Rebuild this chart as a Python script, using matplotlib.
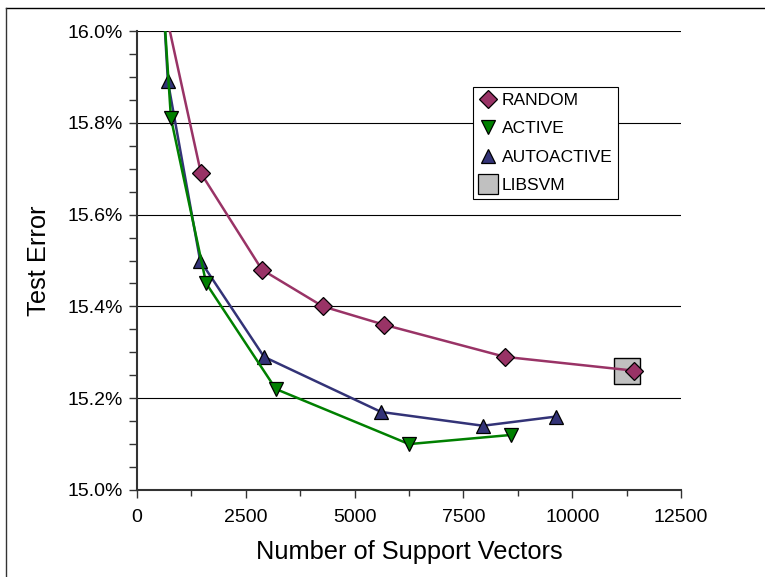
import matplotlib
matplotlib.use("Agg")
import matplotlib.pyplot as plt
from matplotlib.lines import Line2D
from matplotlib.ticker import MultipleLocator, FuncFormatter

plt.rcParams['font.family'] = ['Liberation Sans', 'DejaVu Sans']

# Data (test error in %)
random_sv = [500, 1470, 2870, 4270, 5680, 8460, 11420]
random_err = [16.11, 15.69, 15.48, 15.40, 15.36, 15.29, 15.26]

active_sv = [560, 780, 1590, 3190, 6250, 8600]
active_err = [16.13, 15.81, 15.45, 15.22, 15.10, 15.12]

auto_sv = [600, 710, 1450, 2920, 5610, 7950, 9630]
auto_err = [16.07, 15.89, 15.50, 15.29, 15.17, 15.14, 15.16]

libsvm_sv = [11270]
libsvm_err = [15.26]

fig = plt.figure(figsize=(7.65, 5.77), dpi=100)
ax = fig.add_axes([137/765, 1-490/577, (681-137)/765, (490-31)/577])

ax.plot(libsvm_sv, libsvm_err, linestyle='none', marker='s', markersize=19,
        markerfacecolor='#C0C0C0', markeredgecolor='black', markeredgewidth=1.0,
        label='LIBSVM', zorder=3)
ax.plot(random_sv, random_err, color='#993366', lw=1.8, marker='D', markersize=9,
        markerfacecolor='#993366', markeredgecolor='black', markeredgewidth=0.9,
        markevery=list(range(1, len(random_sv))), label='RANDOM', zorder=4)
ax.plot(active_sv, active_err, color='#008000', lw=1.8, marker='v', markersize=10,
        markerfacecolor='#008000', markeredgecolor='black', markeredgewidth=0.9,
        markevery=list(range(1, len(active_sv))), label='ACTIVE', zorder=5)
ax.plot(auto_sv, auto_err, color='#333377', lw=1.8, marker='^', markersize=10,
        markerfacecolor='#333377', markeredgecolor='black', markeredgewidth=0.9,
        markevery=list(range(1, len(auto_sv))), label='AUTOACTIVE', zorder=4)

ax.set_xlim(0, 12500)
ax.set_ylim(15.0, 16.0)
ax.xaxis.set_major_locator(MultipleLocator(2500))
ax.xaxis.set_minor_locator(MultipleLocator(1250))
ax.yaxis.set_major_locator(MultipleLocator(0.2))
ax.yaxis.set_minor_locator(MultipleLocator(0.05))
ax.yaxis.set_major_formatter(FuncFormatter(lambda v, p: f"{v:.1f}%"))
ax.xaxis.set_major_formatter(FuncFormatter(lambda v, p: f"{int(round(v))}"))

ax.grid(axis='y', which='major', color='black', lw=0.8)
ax.set_axisbelow(True)
for s in ['top', 'right']:
    ax.spines[s].set_visible(False)
for s in ['left', 'bottom']:
    ax.spines[s].set_color('#333333')
    ax.spines[s].set_linewidth(1.5)

ax.tick_params(axis='both', which='both', direction='out', color='#333333', width=1.0)
ax.tick_params(axis='y', which='major', length=6, labelsize=14, pad=4)
ax.tick_params(axis='y', which='minor', length=6)
ax.tick_params(axis='x', which='major', length=6, labelsize=14, pad=8)
ax.tick_params(axis='x', which='minor', length=4)

ax.set_xlabel('Number of Support Vectors', fontsize=18.3, labelpad=10)
ax.set_ylabel('Test Error', fontsize=18.3, labelpad=12)

order = ['RANDOM', 'ACTIVE', 'AUTOACTIVE', 'LIBSVM']
leg_handles = [
    Line2D([], [], linestyle='none', marker='D', markersize=9, markerfacecolor='#993366', markeredgecolor='black', markeredgewidth=0.9),
    Line2D([], [], linestyle='none', marker='v', markersize=10, markerfacecolor='#008000', markeredgecolor='black', markeredgewidth=0.9),
    Line2D([], [], linestyle='none', marker='^', markersize=10, markerfacecolor='#333377', markeredgecolor='black', markeredgewidth=0.9),
    Line2D([], [], linestyle='none', marker='s', markersize=14, markerfacecolor='#C0C0C0', markeredgecolor='black', markeredgewidth=0.9),
]
leg = ax.legend(leg_handles, order, loc='upper left',
                bbox_to_anchor=((473-137)/544, (490-87)/459),
                fontsize=12.5, frameon=True, fancybox=False, framealpha=1,
                edgecolor='black', handlelength=1.0, handletextpad=0.3,
                borderpad=0.35, labelspacing=0.75, borderaxespad=0)
leg.get_frame().set_linewidth(0.8)

# outer frame lines (top and left)
fig.add_artist(Line2D([6/765, 1], [1-8/577, 1-8/577], transform=fig.transFigure, color='black', lw=1.0))
fig.add_artist(Line2D([6/765, 6/765], [0, 1-8/577], transform=fig.transFigure, color='#333333', lw=1.0))

fig.savefig('out.png', dpi=100)
